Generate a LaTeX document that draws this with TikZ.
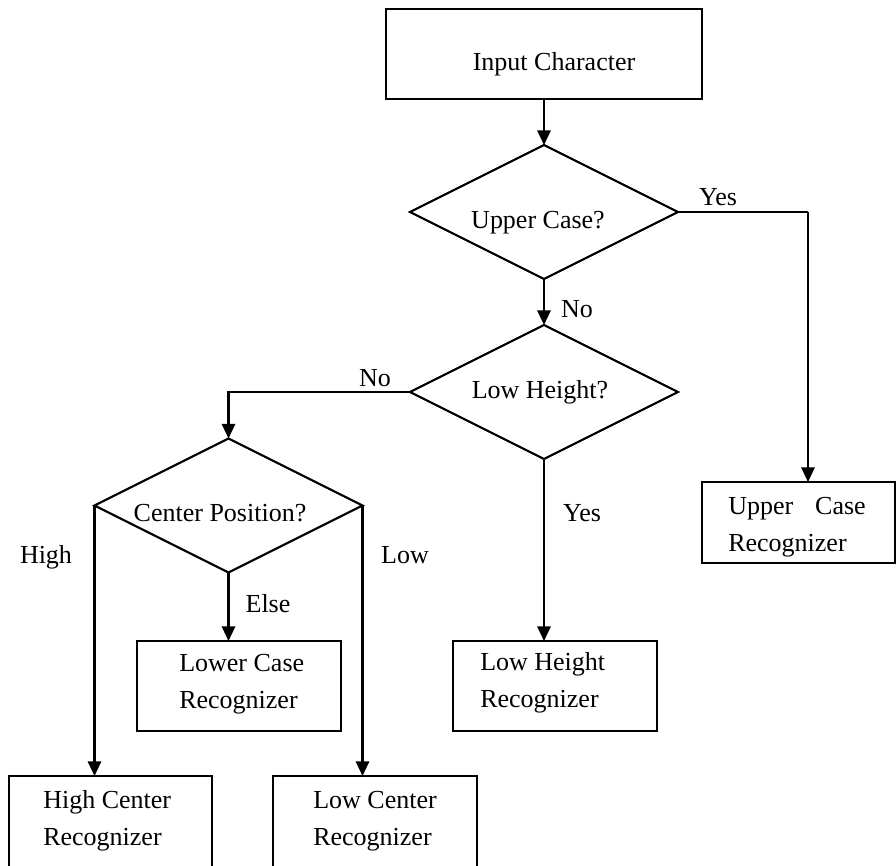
\documentclass[tikz,border=0pt]{standalone}
\usepackage{fontspec}
\setmainfont{Liberation Serif}
\usetikzlibrary{arrows.meta,shapes.geometric}
\begin{document}
\begin{tikzpicture}[x=0.75pt,y=-0.75pt,
  box/.style={draw, line width=1.6pt, rectangle, inner sep=0pt, outer sep=0pt},
  dec/.style={draw, line width=1.6pt, diamond, inner sep=0pt, outer sep=0pt, minimum width=201pt, minimum height=100.5pt},
  txt/.style={inner sep=0pt, font=\fontsize{19.5pt}{27.75pt}\selectfont, align=left},
  conn/.style={line width=1.6pt, -{Triangle[length=11pt,width=10pt]}},
  plain/.style={line width=1.6pt}]
\useasboundingbox (0,0) rectangle (896,865);
\clip (0,0) rectangle (896,865);
% boxes
\node[box, minimum width=237pt, minimum height=67.5pt] (in) at (544,54) {};
\node[box, minimum width=144.75pt, minimum height=60.75pt] (ucr) at (798.5,522.5) {};
\node[box, minimum width=153pt, minimum height=67.5pt] (lwr) at (239,686) {};
\node[box, minimum width=153pt, minimum height=67.5pt] (lhr) at (555,686) {};
\node[box, minimum width=152.25pt, minimum height=78pt] (hcr) at (110.5,828) {};
\node[box, minimum width=153pt, minimum height=78pt] (lcr) at (375,828) {};
% decisions
\node[dec] (d1) at (544,212) {};
\node[dec] (d2) at (544,392) {};
\node[dec] (d3) at (228.5,505.5) {};
% texts
\node[txt, anchor=base] (tin) at (554,70) {Input Character};
\node[txt, anchor=base] (t1) at (538,228) {Upper Case?};
\node[txt, anchor=base] (t2) at (540,398) {Low Height?};
\node[txt, anchor=base] (t3) at (220,521) {Center Position?};
\node[txt, anchor=base west] (tucr) at (728,551) {Upper\hspace{16.5pt}Case\\Recognizer};
\node[txt, anchor=base west] (tlwr) at (179,708) {Lower Case\\Recognizer};
\node[txt, anchor=base west] (tlhr) at (480,707) {Low Height\\Recognizer};
\node[txt, anchor=base west] (thcr) at (43,845) {High Center\\Recognizer};
\node[txt, anchor=base west] (tlcr) at (313,845) {Low Center\\Recognizer};
% connectors
\coordinate (c1) at (808,212);
\draw[plain] (d1.east) -- (c1);
\draw[conn] (c1) -- (c1 |- ucr.north);
\draw[conn] (in.south) -- (d1.north);
\draw[conn] (d1.south) -- (d2.north);
\draw[conn] (d2.west) -| (d3.north);
\draw[conn] (d2.south) -- (d2.south |- lhr.north);
\draw[conn] (d3.west) -- (d3.west |- hcr.north);
\draw[conn] (d3.east) -- (d3.east |- lcr.north);
\draw[conn] (d3.south) -- (d3.south |- lwr.north);
% labels
\node[txt, anchor=base] (lyes1) at (718,205) {Yes};
\node[txt, anchor=base] (lno1) at (577,317) {No};
\node[txt, anchor=base] (lno2) at (375,386) {No};
\node[txt, anchor=base] (lhigh) at (46,563) {High};
\node[txt, anchor=base] (llow) at (405,563) {Low};
\node[txt, anchor=base] (lelse) at (268,612) {Else};
\node[txt, anchor=base] (lyes2) at (582,521) {Yes};
\end{tikzpicture}
\end{document}
